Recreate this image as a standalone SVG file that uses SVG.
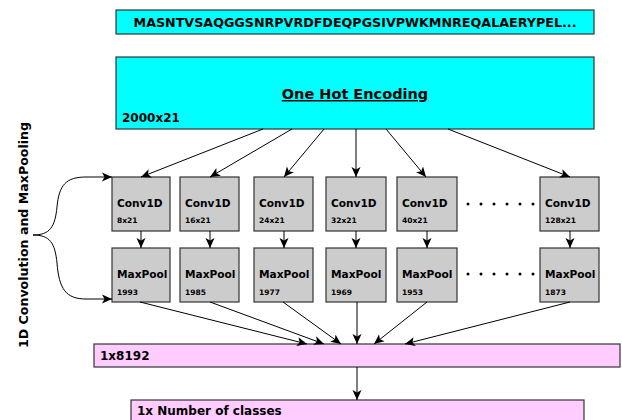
<svg xmlns="http://www.w3.org/2000/svg" width="622" height="420" viewBox="0 0 622 420">
<style>
text{font-family:"DejaVu Sans","Liberation Sans",sans-serif;font-weight:bold;fill:#000}
.cyan{fill:#00ffff;stroke:#333;stroke-width:1.2}
.gray{fill:#cccccc;stroke:#333;stroke-width:1.2}
.pink{fill:#ffccff;stroke:#333;stroke-width:1.2}
.big{font-size:10.6px}
.small{font-size:7.5px}
.lbl{font-size:12px}
.conn line,.conn path{stroke:#000;stroke-width:1;fill:none;marker-end:url(#ah)}
</style>
<defs>
<marker id="ah" viewBox="0 0 10 10" refX="10" refY="5" markerWidth="10" markerHeight="10" markerUnits="userSpaceOnUse" orient="auto">
<path d="M0,0.5 L10,5 L0,9.5 L2.5,5 z" fill="#000"/>
</marker>
</defs>
<rect width="622" height="420" fill="#fff"/>
<g id="sequence">
<rect class="cyan" x="116" y="10" width="478" height="24"/>
<text x="355" y="27" font-size="12.7" text-anchor="middle">MASNTVSAQGGSNRPVRDFDEQPGSIVPWKMNREQALAERYPEL...</text>
</g>
<g id="onehot">
<rect class="cyan" x="116" y="57" width="478" height="72"/>
<text x="355" y="99" font-size="14.5" text-anchor="middle" text-decoration="underline">One Hot Encoding</text>
<text class="lbl" x="122" y="122">2000x21</text>
</g>
<g id="conv1"><rect class="gray" x="112" y="177" width="58" height="54"/><text class="big" x="117" y="207">Conv1D</text><text class="small" x="117" y="223">8x21</text></g>
<g id="conv2"><rect class="gray" x="180" y="177" width="59" height="54"/><text class="big" x="185" y="207">Conv1D</text><text class="small" x="185" y="223">16x21</text></g>
<g id="conv3"><rect class="gray" x="254" y="177" width="59" height="54"/><text class="big" x="259" y="207">Conv1D</text><text class="small" x="259" y="223">24x21</text></g>
<g id="conv4"><rect class="gray" x="326" y="177" width="60" height="54"/><text class="big" x="331" y="207">Conv1D</text><text class="small" x="331" y="223">32x21</text></g>
<g id="conv5"><rect class="gray" x="397" y="177" width="60" height="54"/><text class="big" x="402" y="207">Conv1D</text><text class="small" x="402" y="223">40x21</text></g>
<g id="conv6"><rect class="gray" x="540" y="177" width="59" height="54"/><text class="big" x="545" y="207">Conv1D</text><text class="small" x="545" y="223">128x21</text></g>
<g id="pool1"><rect class="gray" x="112" y="248" width="58" height="54"/><text class="big" x="117" y="278">MaxPool</text><text class="small" x="117" y="295">1993</text></g>
<g id="pool2"><rect class="gray" x="180" y="248" width="59" height="54"/><text class="big" x="185" y="278">MaxPool</text><text class="small" x="185" y="295">1985</text></g>
<g id="pool3"><rect class="gray" x="254" y="248" width="59" height="54"/><text class="big" x="259" y="278">MaxPool</text><text class="small" x="259" y="295">1977</text></g>
<g id="pool4"><rect class="gray" x="326" y="248" width="60" height="54"/><text class="big" x="331" y="278">MaxPool</text><text class="small" x="331" y="295">1969</text></g>
<g id="pool5"><rect class="gray" x="397" y="248" width="60" height="54"/><text class="big" x="402" y="278">MaxPool</text><text class="small" x="402" y="295">1953</text></g>
<g id="pool6"><rect class="gray" x="540" y="248" width="59" height="54"/><text class="big" x="545" y="278">MaxPool</text><text class="small" x="545" y="295">1873</text></g>
<g id="dots" fill="#000">
<circle cx="468" cy="204" r="1.5"/><circle cx="481" cy="204" r="1.5"/><circle cx="494" cy="204" r="1.5"/><circle cx="507" cy="204" r="1.5"/><circle cx="520" cy="204" r="1.5"/><circle cx="533" cy="204" r="1.5"/>
<circle cx="468" cy="274" r="1.5"/><circle cx="481" cy="274" r="1.5"/><circle cx="494" cy="274" r="1.5"/><circle cx="507" cy="274" r="1.5"/><circle cx="520" cy="274" r="1.5"/><circle cx="533" cy="274" r="1.5"/>
</g>
<g id="flat"><rect class="pink" x="94" y="344" width="526" height="23"/><text class="lbl" x="100" y="360">1x8192</text></g>
<g id="classes"><rect class="pink" x="131" y="400" width="453" height="26"/><text class="lbl" x="137" y="415">1x Number of classes</text></g>
<g id="sidelabel"><text transform="translate(28,235) rotate(-90)" font-size="12.6" text-anchor="middle">1D Convolution and MaxPooling</text></g>
<g class="conn" id="connectors">
<line x1="263" y1="129" x2="141" y2="177"/>
<line x1="292" y1="129" x2="210" y2="177"/>
<line x1="324" y1="129" x2="284" y2="177"/>
<line x1="356" y1="129" x2="356" y2="177"/>
<line x1="386" y1="129" x2="426" y2="177"/>
<line x1="448" y1="129" x2="570" y2="177"/>
<line x1="141" y1="231" x2="141" y2="248"/>
<line x1="210" y1="231" x2="210" y2="248"/>
<line x1="284" y1="231" x2="284" y2="248"/>
<line x1="356" y1="231" x2="356" y2="248"/>
<line x1="427" y1="231" x2="427" y2="248"/>
<line x1="570" y1="231" x2="570" y2="248"/>
<line x1="140" y1="302" x2="307" y2="344"/>
<line x1="210" y1="302" x2="324" y2="344"/>
<line x1="283" y1="302" x2="341" y2="344"/>
<line x1="357" y1="302" x2="357" y2="344"/>
<line x1="427" y1="302" x2="374" y2="344"/>
<line x1="570" y1="302" x2="405" y2="344"/>
<line x1="357" y1="367" x2="357" y2="400"/>
<path d="M33,235 C50,235 55,227 57,207 C59,185 66,177 86,177 L112,177"/>
<path d="M33,235 C50,235 55,243 57,263 C59,289 66,299 86,299 L112,299"/>
</g>
</svg>
